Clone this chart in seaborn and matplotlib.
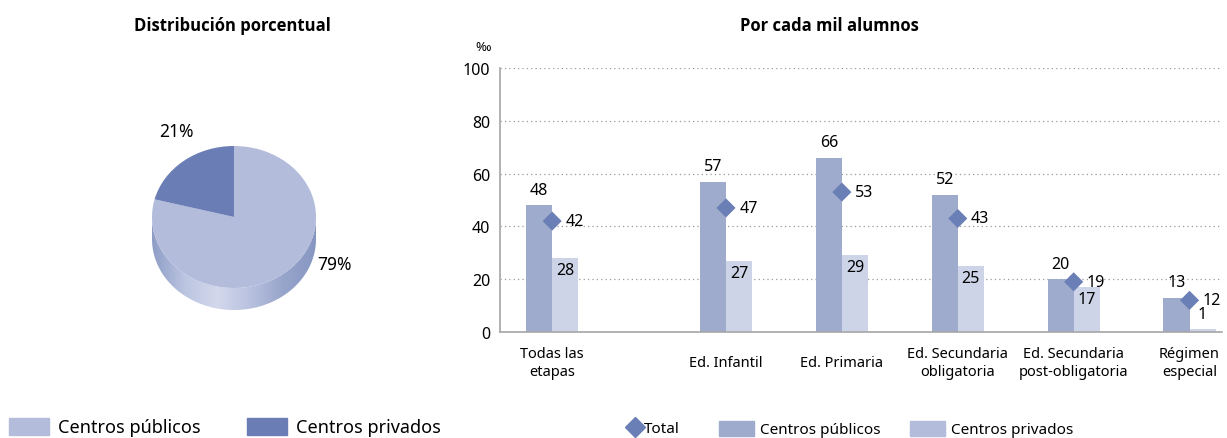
import numpy as np
import pandas as pd
import matplotlib
matplotlib.use("Agg")
import matplotlib.pyplot as plt
from matplotlib.patches import Patch, Polygon
from matplotlib.lines import Line2D
from matplotlib.colors import LinearSegmentedColormap
import seaborn as sns

# ---------------- data ----------------
pie_labels = ["Centros públicos", "Centros privados"]
pie_values = [79, 21]

categories = ["Todas las\netapas", "Ed. Infantil", "Ed. Primaria",
              "Ed. Secundaria\nobligatoria", "Ed. Secundaria\npost-obligatoria",
              "Régimen\nespecial"]
publicos = [48, 57, 66, 52, 20, 13]
privados = [28, 27, 29, 25, 17, 1]
total = [42, 47, 53, 43, 19, 12]
yticks = [0, 20, 40, 60, 80, 100]

# layout (category slots on the x axis; first group set apart)
slots = [0, 1.5, 2.5, 3.5, 4.5, 5.5]

# ---------------- style ----------------
sns.set_theme(style="white")
plt.rcParams['font.family'] = ['Noto Sans', 'DejaVu Sans']
plt.rcParams['text.color'] = 'black'
plt.rcParams['xtick.color'] = 'black'
plt.rcParams['ytick.color'] = 'black'

C_PIE_PUB = "#b3bcdb"
C_PIE_PRIV = "#6a7db5"
C_BAR_PUB = "#9eabcc"
C_BAR_PRIV = "#cdd4e7"
C_LEG_PRIV = "#b3bcdb"
C_DIAM = "#6a7fb6"

W, H = 1227, 439
fig = plt.figure(figsize=(W / 100, H / 100), dpi=100)

# ---------------- pie (pseudo 3D) ----------------
cx, cy, rx, ry = 234, 218, 82, 71
lim = 1.5
pw, ph = 2 * lim * rx, 2 * lim * ry
axp = fig.add_axes([(cx - pw / 2) / W, (H - (cy + ph / 2)) / H, pw / W, ph / H])
depth = 22 / ry

th = np.linspace(np.pi, 2 * np.pi, 200)
top_x, top_y = np.cos(th), np.sin(th)
side = np.concatenate([np.column_stack([top_x, top_y]),
                       np.column_stack([top_x[::-1], top_y[::-1] - depth])])
poly = Polygon(side, closed=True, facecolor="none", edgecolor="none")
axp.add_patch(poly)
cmap = LinearSegmentedColormap.from_list(
    "side", ["#8e9dc6", "#bcc5e1", "#d3d8ec", "#b8c1df", "#98a5cb", "#8797c2"])
grad = np.linspace(0, 1, 256).reshape(1, -1)
im = axp.imshow(grad, cmap=cmap, extent=[-1, 1, -1 - depth, 0],
                aspect="auto", zorder=1)
im.set_clip_path(poly)

wedges, _ = axp.pie(pie_values, colors=[C_PIE_PUB, C_PIE_PRIV], startangle=90,
                    counterclock=False, radius=1,
                    wedgeprops=dict(linewidth=0, zorder=2))
for w in wedges:
    w.set_zorder(2)
axp.set_aspect("auto")
axp.set_xlim(-lim, lim)
axp.set_ylim(-lim, lim)
axp.axis("off")
axp.text(1.23, -0.66, f"{pie_values[0]}%", ha="center", va="center", fontsize=12.5)
axp.text(-0.70, 1.21, f"{pie_values[1]}%", ha="center", va="center", fontsize=12.5)

fig.text(232 / W, 1 - 26 / H, "Distribución porcentual", ha="center", va="center",
         fontsize=12, fontweight="bold", family=["Open Sans", "DejaVu Sans"])

fig.legend(handles=[Patch(color=C_PIE_PUB, label=pie_labels[0]),
                    Patch(color=C_PIE_PRIV, label=pie_labels[1])],
           loc="center left", bbox_to_anchor=(9 / W, 1 - 428 / H), ncol=2,
           frameon=False, fontsize=13, handlelength=2.2, handleheight=1.1,
           handletextpad=0.5, columnspacing=2.6, borderpad=0, borderaxespad=0)

# ---------------- bars ----------------
x0, x1, ytop, ybot = 500, 1222, 69, 333
axb = fig.add_axes([x0 / W, (H - ybot) / H, (x1 - x0) / W, (ybot - ytop) / H])

df = pd.DataFrame({
    "pos": slots * 2,
    "val": publicos + privados,
    "serie": ["Centros públicos"] * len(slots) + ["Centros privados"] * len(slots),
})
sns.barplot(data=df, x="pos", y="val", hue="serie", native_scale=True,
            palette=[C_BAR_PUB, C_BAR_PRIV], saturation=1, width=0.45, dodge=True,
            errorbar=None, linewidth=0, legend=False, ax=axb, zorder=2)
sns.scatterplot(x=slots, y=total, marker="D", s=95, color=C_DIAM,
                edgecolor="none", ax=axb, zorder=4)

cont_pub, cont_priv = axb.containers[0], axb.containers[1]
for rect, v in zip(cont_pub, publicos):
    axb.annotate(str(v), (rect.get_x() + rect.get_width() / 2, v),
                 xytext=(0, 11), textcoords="offset points",
                 ha="center", va="center", fontsize=11.5)
for rect, v in zip(cont_priv, privados):
    off = -8.5 if v >= 5 else 11
    axb.annotate(str(v), (rect.get_x() + rect.get_width() / 2, v),
                 xytext=(0, off), textcoords="offset points",
                 ha="center", va="center", fontsize=11.5)
for s_, v in zip(slots, total):
    axb.annotate(str(v), (s_, v), xytext=(9.5, 0), textcoords="offset points",
                 ha="left", va="center", fontsize=11.5)

axb.set_xlim(-0.45, 5.78)
axb.set_ylim(0, 100)
axb.set_yticks(yticks)
axb.set_yticklabels([str(t) for t in yticks], fontsize=11.5)
axb.set_xticks(slots)
axb.set_xticklabels(categories, fontsize=10.5)
for lab in axb.get_xticklabels():
    lab.set_va("center")
axb.tick_params(axis="x", length=0, pad=22)
axb.tick_params(axis="y", length=0, pad=7)
axb.set_xlabel("")
axb.set_ylabel("")
axb.yaxis.grid(True, linestyle=(0, (1, 2.5)), color="#9a9a9a", linewidth=0.9)
axb.xaxis.grid(False)
axb.set_axisbelow(True)
for sp in ["top", "right"]:
    axb.spines[sp].set_visible(False)
for sp in ["left", "bottom"]:
    axb.spines[sp].set_color("#a6a6a6")
    axb.spines[sp].set_linewidth(1.2)
axb.text(-0.012, 1.08, "‰", transform=axb.transAxes, ha="right", va="center",
         fontsize=9.5)

fig.text(829 / W, 1 - 26 / H, "Por cada mil alumnos", ha="center", va="center",
         fontsize=12, fontweight="bold", family=["Open Sans", "DejaVu Sans"])

fig.legend(handles=[Line2D([], [], marker="D", linestyle="none", color=C_DIAM,
                           markersize=10, label="Total")],
           loc="center left", bbox_to_anchor=(629 / W, 1 - 430 / H),
           frameon=False, fontsize=11, handlelength=0.8, handletextpad=0.15,
           borderpad=0, borderaxespad=0)
fig.legend(handles=[Patch(color=C_BAR_PUB, label="Centros públicos"),
                    Patch(color=C_LEG_PRIV, label="Centros privados")],
           loc="center left", bbox_to_anchor=(719 / W, 1 - 430 / H), ncol=2,
           frameon=False, fontsize=11, handlelength=2.3, handleheight=1.2,
           handletextpad=0.4, columnspacing=1.9, borderpad=0, borderaxespad=0)

fig.savefig("out.png", dpi=100)
